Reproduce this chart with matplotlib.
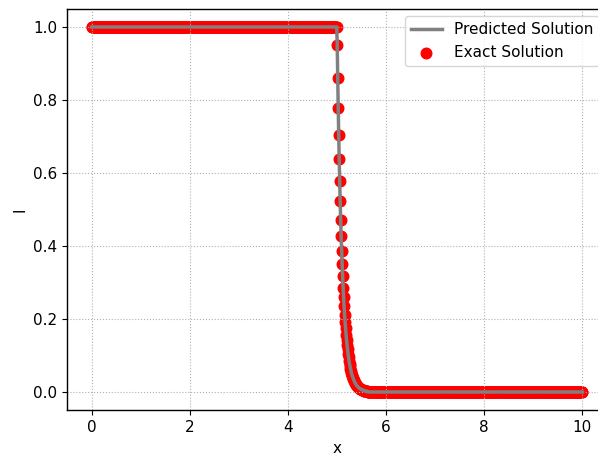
import numpy as np
import matplotlib.pyplot as plt

# sample grid along x (1000 points on [0, 10])
x = np.linspace(0, 10, 1000)

# values: plateau, drop just after x = 5, flat tail
plateau = [1.0] * 500
drop = [0.951, 0.861, 0.779, 0.705, 0.638, 0.577, 0.522, 0.472, 0.427,
        0.387, 0.350, 0.317, 0.286, 0.259, 0.235, 0.212, 0.192, 0.174,
        0.157, 0.142, 0.129, 0.117, 0.105, 0.095, 0.086, 0.078, 0.071,
        0.064, 0.058, 0.052, 0.047, 0.043, 0.039, 0.035, 0.032, 0.029,
        0.026, 0.024, 0.021, 0.019, 0.017, 0.016, 0.014, 0.013, 0.012,
        0.010, 0.009, 0.009, 0.008, 0.007, 0.006, 0.006, 0.005, 0.005,
        0.004, 0.004, 0.003, 0.003, 0.003, 0.002, 0.002, 0.002]
tail = [0.0] * (1000 - 500 - len(drop))

exact_I = np.array(plateau + drop + tail)
pred_I = exact_I.copy()

plt.rc('font', size=11)
plt.rc('axes', linewidth=1.0)

fig = plt.figure(figsize=(5.98, 4.57), dpi=100)
ax = fig.add_axes([0.112, 0.1023, 0.903, 0.8786])

ax.plot(x, pred_I, color='grey', linewidth=2.5, label='Predicted Solution')
ax.scatter(x, exact_I, color='red', s=58, label='Exact Solution')

ax.grid(linestyle=':', color='#b0b0b0')
ax.set_xlabel('x')
ax.set_ylabel('I')
ax.legend(loc='upper right')

fig.savefig('out.png', dpi=100)
